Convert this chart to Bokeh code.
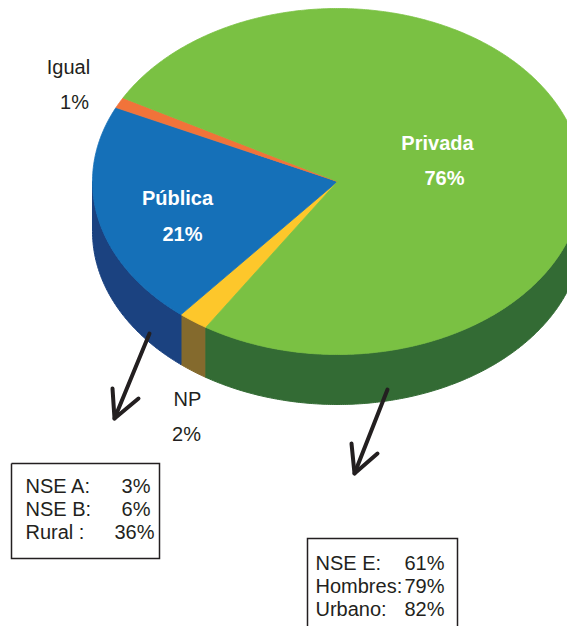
import numpy as np
from bokeh.plotting import figure
from bokeh.models import Range1d
from bokeh.core.properties import value
from bokeh.embed import file_html
from bokeh.resources import INLINE

# ---- data ----
categories = ["NP", "Pública", "Igual", "Privada"]
values = [2, 21, 1, 76]
top_colors = ["#FDC72B", "#1570B8", "#F1733A", "#7AC143"]
side_colors = ["#846A2D", "#1B4280", "#B04A20", "#336B34"]

pub_labels = ["NSE A:", "NSE B:", "Rural :"]
pub_values = ["3%", "6%", "36%"]
priv_labels = ["NSE E:", "Hombres:", "Urbano:"]
priv_values = ["61%", "79%", "82%"]

# ---- layout ----
W, H = 567, 626
CX, CY, RX, RY, DEPTH = 337, 181, 245, 173, 50
START = 122.5
FONT = value("Liberation Sans")
INK = "#231F20"

p = figure(width=W, height=H, x_range=Range1d(0, W), y_range=Range1d(H, 0),
           output_backend="svg", toolbar_location=None, min_border=0)
p.axis.visible = False
p.grid.visible = False
p.outline_line_color = None
p.background_fill_color = "white"
p.border_fill_color = "white"


def arc(a, b, dy=0.0, n=None):
    if n is None:
        n = max(4, int(abs(b - a) * 2))
    t = np.radians(np.linspace(a, b, n))
    return CX + RX * np.cos(t), CY + RY * np.sin(t) + dy


total = float(sum(values))
angles = []
acc = START
for v in values:
    span = v / total * 360.0
    angles.append((acc, acc + span))
    acc += span

# side faces (front half only: 0..180 and 360..540)
sx, sy, sc = [], [], []
for (a, b), col in zip(angles, side_colors):
    for lo, hi in [(0, 180), (360, 540)]:
        s, e = max(a, lo), min(b, hi)
        if e > s:
            tx, ty = arc(s, e)
            bx, by = arc(e, s, DEPTH)
            sx.append(list(tx) + list(bx))
            sy.append(list(ty) + list(by))
            sc.append(col)
p.patches(sx, sy, fill_color=sc, line_color=sc, line_width=1)

# top faces
tx_all, ty_all = [], []
for (a, b) in angles:
    ax_, ay_ = arc(a, b)
    tx_all.append([CX] + list(ax_))
    ty_all.append([CY] + list(ay_))
p.patches(tx_all, ty_all, fill_color=top_colors, line_color=top_colors, line_width=0.8)

# slice labels
p.text(x=[437, 444], y=[142, 177], text=["Privada", f"{values[3]}%"],
       text_font=FONT, text_font_size="20px", text_font_style="bold",
       text_color="white", text_align="center", text_baseline="middle")
p.text(x=[177, 182], y=[197, 233], text=["Pública", f"{values[1]}%"],
       text_font=FONT, text_font_size="20px", text_font_style="bold",
       text_color="white", text_align="center", text_baseline="middle")
p.text(x=[68, 74], y=[66, 101], text=["Igual", f"{values[2]}%"],
       text_font=FONT, text_font_size="20px", text_color=INK,
       text_align="center", text_baseline="middle")
p.text(x=[187, 186], y=[398, 433], text=["NP", f"{values[0]}%"],
       text_font=FONT, text_font_size="20px", text_color=INK,
       text_align="center", text_baseline="middle")

# arrows
p.multi_line(xs=[[149, 114], [112, 114, 138], [387, 354], [351, 354, 377]],
             ys=[[333, 418], [388, 418, 398], [389, 473], [443, 473, 453]],
             line_color=INK, line_width=4, line_cap="round", line_join="round")

# boxes (right one open at the bottom, running off the page)
p.multi_line(xs=[[11, 159, 159, 11, 11], [307, 307, 457, 457]],
             ys=[[463, 463, 558, 558, 463], [700, 538, 538, 700]],
             line_color=INK, line_width=1.5, line_join="miter")

p.text(x=[25] * 3, y=[485, 508, 531], text=pub_labels, text_font=FONT,
       text_font_size="20px", text_color=INK, text_align="left", text_baseline="middle")
p.text(x=[150, 150, 154], y=[485, 508, 531], text=pub_values, text_font=FONT,
       text_font_size="20px", text_color=INK, text_align="right", text_baseline="middle")
p.text(x=[315] * 3, y=[562, 585, 608], text=priv_labels, text_font=FONT,
       text_font_size="20px", text_color=INK, text_align="left", text_baseline="middle")
p.text(x=[444] * 3, y=[562, 585, 608], text=priv_values, text_font=FONT,
       text_font_size="20px", text_color=INK, text_align="right", text_baseline="middle")

open("out.html", "w").write(file_html(p, INLINE))
